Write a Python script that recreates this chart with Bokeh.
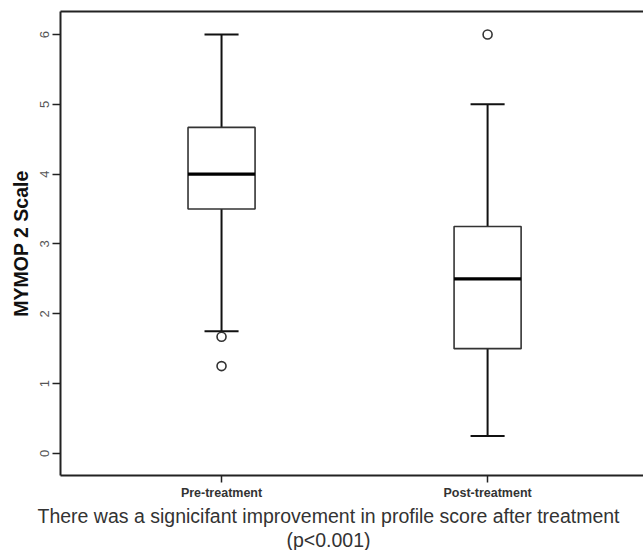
from bokeh.plotting import figure
from bokeh.models import Range1d, LinearAxis, FixedTicker, Title, ColumnDataSource
from bokeh.embed import file_html
from bokeh.resources import INLINE

# ---- data ----
categories = ["Pre-treatment", "Post-treatment"]
positions = [1, 2]
upper_whisker = [6.0, 5.0]
q3 = [4.67, 3.25]
median = [4.0, 2.5]
q1 = [3.5, 1.5]
lower_whisker = [1.75, 0.25]
outlier_group = [1, 1, 2]
outlier_values = [1.67, 1.25, 6.0]
y_ticks = [0, 1, 2, 3, 4, 5, 6]
y_label = "MYMOP 2 Scale"
caption_lines = ["There was a signicifant improvement in profile score after treatment",
                 "(p<0.001)"]

BOX_W = 0.252
CAP_W = 0.128

p = figure(width=643, height=550, output_backend="svg", toolbar_location=None,
           x_range=Range1d(0.3947, 2.586), y_range=Range1d(-0.317, 6.33),
           min_border_left=60, min_border_right=0, min_border_top=11, min_border_bottom=0,
           x_axis_location=None, y_axis_location=None)
p.outline_line_color = None
p.xgrid.visible = False
p.ygrid.visible = False
p.background_fill_color = "white"
p.border_fill_color = "white"

src = ColumnDataSource(dict(x=positions, uw=upper_whisker, q3=q3, med=median, q1=q1, lw=lower_whisker))

# whiskers
p.segment(x0="x", y0="q3", x1="x", y1="uw", source=src, line_color="#111", line_width=2)
p.segment(x0="x", y0="lw", x1="x", y1="q1", source=src, line_color="#111", line_width=2)
# caps
xl = [x - CAP_W / 2 for x in positions]
xr = [x + CAP_W / 2 for x in positions]
p.segment(x0=xl, y0=upper_whisker, x1=xr, y1=upper_whisker, line_color="#111", line_width=2)
p.segment(x0=xl, y0=lower_whisker, x1=xr, y1=lower_whisker, line_color="#111", line_width=2)
# boxes
p.vbar(x="x", width=BOX_W, bottom="q1", top="q3", source=src,
       fill_color="white", line_color="#333", line_width=1.6)
# medians
bl = [x - BOX_W / 2 for x in positions]
br = [x + BOX_W / 2 for x in positions]
p.segment(x0=bl, y0=median, x1=br, y1=median, line_color="#000", line_width=3.2)
# outliers
p.scatter(x=outlier_group, y=outlier_values, marker="circle", size=9,
          fill_color=None, line_color="#333", line_width=1.6)

# axes
yax = LinearAxis(ticker=FixedTicker(ticks=y_ticks), axis_label=y_label)
yax.axis_line_width = 2
yax.axis_line_color = "#222"
yax.major_tick_line_width = 1.5
yax.major_tick_line_color = "#222"
yax.major_tick_out = 8
yax.major_tick_in = 0
yax.minor_tick_line_color = None
yax.major_label_orientation = "vertical"
yax.major_label_text_font = "Liberation Sans"
yax.major_label_text_font_size = "13px"
yax.major_label_text_color = "#555"
yax.major_label_standoff = 3
yax.axis_label_text_font = "Liberation Sans"
yax.axis_label_text_font_style = "bold"
yax.axis_label_text_font_size = "19.5px"
yax.axis_label_text_color = "#111"
yax.axis_label_standoff = 6
p.add_layout(yax, "left")

xax = LinearAxis(ticker=FixedTicker(ticks=positions),
                 major_label_overrides={positions[i]: categories[i] for i in range(len(positions))})
xax.axis_line_width = 2
xax.axis_line_color = "#222"
xax.major_tick_line_width = 1.5
xax.major_tick_line_color = "#222"
xax.major_tick_out = 7
xax.major_tick_in = 0
xax.minor_tick_line_color = None
xax.major_label_text_font = "Liberation Sans"
xax.major_label_text_font_size = "12.5px"
xax.major_label_text_font_style = "bold"
xax.major_label_text_color = "#333"
xax.major_label_standoff = 3
p.add_layout(xax, "below")

top = LinearAxis(ticker=FixedTicker(ticks=[]))
top.axis_line_width = 2
top.axis_line_color = "#222"
top.major_tick_line_color = None
top.minor_tick_line_color = None
top.major_label_text_font_size = "0px"
p.add_layout(top, "above")

# caption (two centred lines below the x axis)
offsets = [-23, 226]
for i, (txt, off) in enumerate(zip(caption_lines, offsets)):
    t = Title(text=txt, align="left", offset=off, standoff=0,
              text_font="Liberation Sans", text_font_size="19.5px",
              text_font_style="normal", text_color="#333")
    p.add_layout(t, "below")

open("out.html", "w").write(file_html(p, INLINE))
